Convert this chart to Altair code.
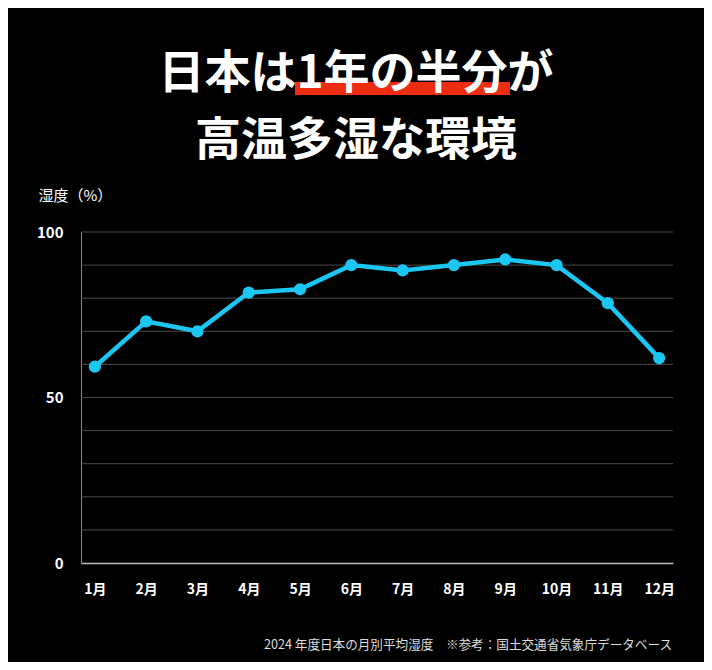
import altair as alt
import pandas as pd

months = ["1月", "2月", "3月", "4月", "5月", "6月", "7月", "8月", "9月", "10月", "11月", "12月"]
humidity = [59.3, 73.0, 70.0, 81.7, 82.7, 90.0, 88.4, 90.0, 91.7, 90.0, 78.5, 61.9]
grid_values = [10, 20, 30, 40, 50, 60, 70, 80, 90, 100]
y_tick_values = [0, 50, 100]

title_line1 = "日本は1年の半分が"
title_line2 = "高温多湿な環境"
y_title = "湿度（%）"
footnote = "2024 年度日本の月別平均湿度　※参考：国土交通省気象庁データベース"

df = pd.DataFrame({"month": months, "humidity": humidity})

FONT = "Noto Sans CJK JP"
CYAN = "#1cc6f2"
y_scale = alt.Scale(domain=[0, 100], nice=False)

x_enc = alt.X(
    "month:N",
    sort=months,
    scale=alt.Scale(type="point", padding=0.27),
    axis=alt.Axis(
        title=None,
        labelAngle=0,
        labelColor="white",
        labelFont=FONT,
        labelFontWeight="bold",
        labelFontSize=14,
        labelPadding=19,
        ticks=False,
        domainColor="#bdbdbd",
        domainWidth=1.5,
        grid=False,
    ),
)
y_axis = alt.Axis(
    title=y_title,
    titleAngle=0,
    titleX=-43,
    titleY=-37,
    titleAlign="left",
    titleBaseline="middle",
    titleColor="white",
    titleFont=FONT,
    titleFontSize=15,
    titleFontWeight="normal",
    values=y_tick_values,
    labelColor="white",
    labelFont=FONT,
    labelFontWeight="bold",
    labelFontSize=15,
    labelPadding=18,
    ticks=False,
    domainColor="#8a8a8a",
    domainWidth=1,
    grid=False,
)

grid = alt.Chart(pd.DataFrame({"g": grid_values})).mark_rule(
    color="#4a4a4a", strokeWidth=1
).encode(y=alt.Y("g:Q", scale=y_scale, axis=y_axis))

line = alt.Chart(df).mark_line(color=CYAN, strokeWidth=4.5).encode(
    x=x_enc, y=alt.Y("humidity:Q", scale=y_scale)
)
points = alt.Chart(df).mark_point(
    filled=True, color=CYAN, size=150, opacity=1
).encode(x=alt.X("month:N", sort=months), y=alt.Y("humidity:Q", scale=y_scale))

bar = alt.Chart(pd.DataFrame({"a": [0]})).mark_rect(color="#ee2c12").encode(
    x=alt.value(214), x2=alt.value(429), y=alt.value(-150), y2=alt.value(-137)
)

t1 = alt.Chart(pd.DataFrame({"t": [title_line1]})).mark_text(
    font=FONT, fontSize=46, fontWeight="bold", color="white",
    align="center", baseline="middle"
).encode(text="t:N", x=alt.value(275), y=alt.value(-158))

t2 = alt.Chart(pd.DataFrame({"t": [title_line2]})).mark_text(
    font=FONT, fontSize=46, fontWeight="bold", color="white",
    align="center", baseline="middle"
).encode(text="t:N", x=alt.value(275), y=alt.value(-91))

foot = alt.Chart(pd.DataFrame({"t": [footnote]})).mark_text(
    font=FONT, fontSize=12.6, color="#dddddd", align="right", baseline="middle"
).encode(text="t:N", x=alt.value(591), y=alt.value(413))

chart = alt.layer(grid, bar, t1, t2, foot, line, points).properties(
    width=592,
    height=331,
    padding={"left": 73, "top": 224, "right": 31, "bottom": 99},
    autosize=alt.AutoSizeParams(type="none"),
    background="black",
).configure_view(stroke=None)

chart.save("out.html", embed_options={"renderer": "svg", "actions": False})
